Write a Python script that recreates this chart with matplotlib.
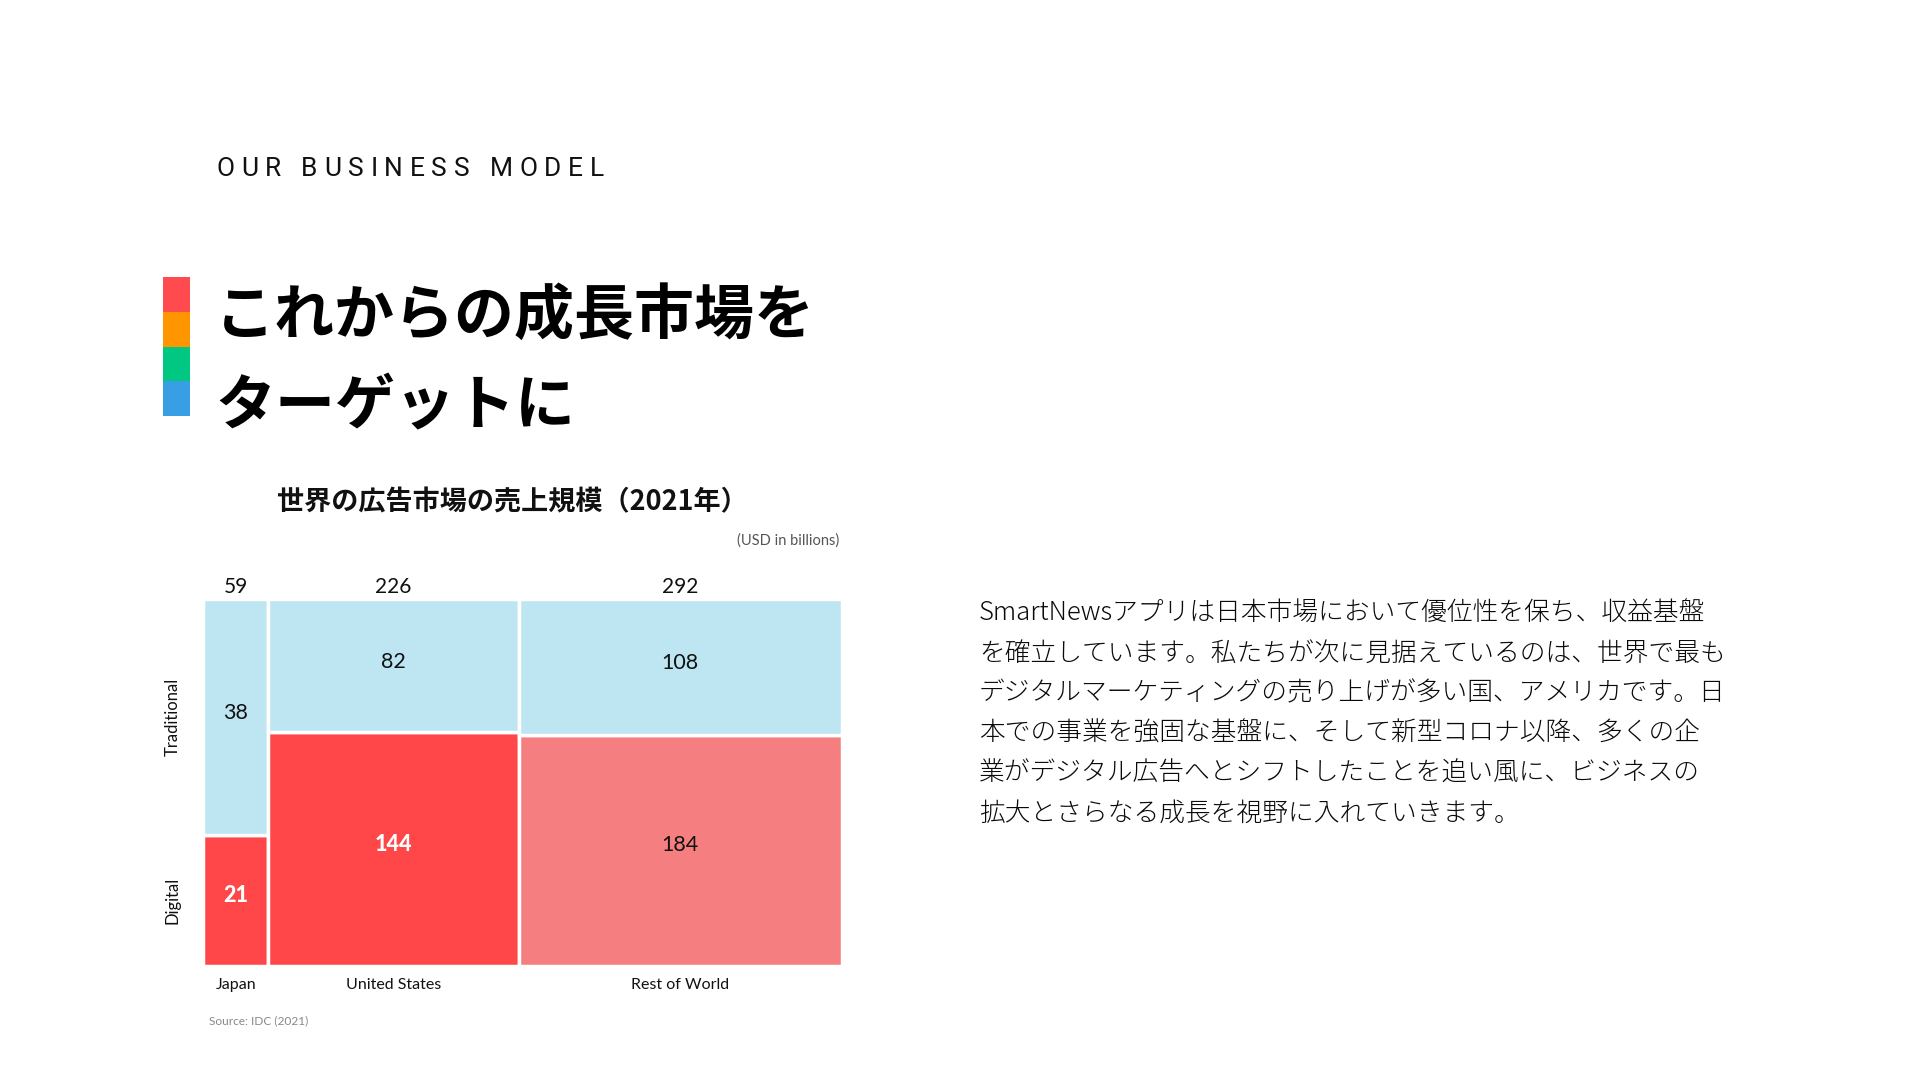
import matplotlib
matplotlib.use("Agg")
import matplotlib.pyplot as plt
from matplotlib.font_manager import FontProperties

# ---------------- data ----------------
regions = ["Japan", "United States", "Rest of World"]
digital = [21, 144, 184]
traditional = [38, 82, 108]
totals = [59, 226, 292]
segment_names = ["Traditional", "Digital"]

header = "OUR BUSINESS MODEL"
title_lines = ["これからの成長市場を", "ターゲットに"]
chart_title = "世界の広告市場の売上規模（2021年）"
unit_note = "(USD in billions)"
source_note = "Source: IDC (2021)"
body_lines = [
    "SmartNewsアプリは日本市場において優位性を保ち、収益基盤",
    "を確立しています。私たちが次に見据えているのは、世界で最も",
    "デジタルマーケティングの売り上げが多い国、アメリカです。日",
    "本での事業を強固な基盤に、そして新型コロナ以降、多くの企",
    "業がデジタル広告へとシフトしたことを追い風に、ビジネスの",
    "拡大とさらなる成長を視野に入れていきます。",
]

W, H = 1920, 1080
fig = plt.figure(figsize=(W / 100, H / 100), dpi=100)
fig.patch.set_facecolor("white")

def fx(x):
    return x / W

def fy(y):
    return 1 - y / H

CJK = ["Noto Sans CJK JP", "DejaVu Sans"]
LAT = ["Lato", "DejaVu Sans"]

# ---------- header with letter spacing ----------
renderer = fig.canvas.get_renderer()
hp = FontProperties(family=["Roboto", "DejaVu Sans"], size=19, weight="normal")
widths = []
for ch in header:
    if ch == " ":
        w, _, _ = renderer.get_text_width_height_descent("a a", hp, ismath=False)
        w2, _, _ = renderer.get_text_width_height_descent("aa", hp, ismath=False)
        widths.append(w - w2)
    else:
        w, _, _ = renderer.get_text_width_height_descent(ch, hp, ismath=False)
        widths.append(w)
target_w = 388
track = (target_w - sum(widths)) / (len(header) - 1)
x = 216
for ch, w in zip(header, widths):
    if ch != " ":
        fig.text(fx(x), fy(168.5), ch, fontproperties=hp, color="#111111",
                 ha="left", va="center")
    x += w + track

# ---------- colour bar ----------
bar_cols = ["#FF4B4E", "#FF9500", "#00C883", "#399FE5"]
bar_top, bar_h = 277, 139
seg_h = bar_h / 4
for i, c in enumerate(bar_cols):
    fig.patches.append(plt.Rectangle((fx(163), fy(bar_top + (i + 1) * seg_h)),
                                     27 / W, seg_h / H, color=c,
                                     transform=fig.transFigure, lw=0))

# ---------- big title ----------
for i, line in enumerate(title_lines):
    fig.text(fx(215), fy(316 + i * 90.5), line, family=CJK, fontsize=43.2,
             weight="bold", color="#000000", ha="left", va="center")

# ---------- chart title & notes ----------
fig.text(fx(512), fy(502), chart_title, family=CJK, fontsize=19.5,
         weight="bold", color="#111111", ha="center", va="center")
fig.text(fx(839), fy(541), unit_note, family=LAT, fontsize=10.5,
         color="#555555", ha="right", va="center")
fig.text(fx(209), fy(1021), source_note, family=LAT, fontsize=8.6,
         color="#888888", ha="left", va="center")

# ---------- body text ----------
for i, line in enumerate(body_lines):
    fig.text(fx(979), fy(613.5 + i * 39.9), line, family=CJK, fontsize=18.5,
             weight=300, color="#0A0A0A", ha="left", va="center")

# ---------- marimekko ----------
ax_l, ax_r, ax_t, ax_b = 203, 842, 599, 966
ax = fig.add_axes([fx(ax_l), fy(ax_b), (ax_r - ax_l) / W, (ax_b - ax_t) / H])
grand = sum(totals)
ax.set_xlim(0, grand)
ax.set_ylim(0, 1)
ax.axis("off")

trad_col = "#BDE5F2"
dig_cols = ["#FF474A", "#FF474A", "#F47E80"]
dig_txt = ["white", "white", "#111111"]
dig_wt = ["black", "black", "normal"]

left = 0
for i, r in enumerate(regions):
    tot = totals[i]
    dfrac = digital[i] / tot
    ax.bar(left, dfrac, width=tot, bottom=0, align="edge", color=dig_cols[i],
           edgecolor="white", linewidth=2.5)
    ax.bar(left, 1 - dfrac, width=tot, bottom=dfrac, align="edge",
           color=trad_col, edgecolor="white", linewidth=2.5)
    cx = left + tot / 2
    ax.annotate(str(digital[i]), (cx, dfrac / 2), xytext=(0, 5),
                textcoords="offset pixels", family=LAT, fontsize=15.5,
                color=dig_txt[i], weight=dig_wt[i], ha="center", va="center")
    ax.annotate(str(traditional[i]), (cx, (1 + dfrac) / 2), xytext=(0, 4),
                textcoords="offset pixels", family=LAT, fontsize=15.5,
                color="#111111", ha="center", va="center")
    ax.annotate(str(tot), (cx, 1), xytext=(0, 12), textcoords="offset pixels",
                family=LAT, fontsize=15, color="#111111", ha="center",
                va="center", annotation_clip=False)
    ax.annotate(r, (cx, 0), xytext=(0, -19), textcoords="offset pixels",
                family=LAT, fontsize=11.5, color="#111111", ha="center",
                va="center", annotation_clip=False)
    left += tot

jd = digital[0] / totals[0]
for name, yc in zip(segment_names, [(1 + jd) / 2, jd / 2]):
    ax.annotate(name, (0, yc), xytext=(-30, 0), textcoords="offset pixels",
                family=LAT, fontsize=12, color="#111111", rotation=90,
                ha="center", va="center", annotation_clip=False)

fig.savefig("out.png", dpi=100, facecolor="white")
